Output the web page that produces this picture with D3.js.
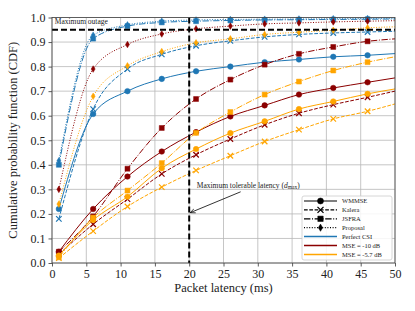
<!DOCTYPE html>
<html>
<head>
<meta charset="utf-8">
<script src="https://cdn.jsdelivr.net/npm/d3@7"></script>
<style>
  body { margin: 0; background: #fff; }
  svg text { font-family: "Liberation Serif", "DejaVu Serif", serif; fill: #222; }
</style>
</head>
<body>
<div id="chart"></div>
<script>
// latency points (ms); markers on every point except the last one
const latency = [1, 6, 11, 16, 21, 26, 31, 36, 41, 46, 50];
const xTicks = [0, 5, 10, 15, 20, 25, 30, 35, 40, 45, 50];
const yTicks = [0, 0.1, 0.2, 0.3, 0.4, 0.5, 0.6, 0.7, 0.8, 0.9, 1.0];

// Perfect CSI
const csiWmmse    = [0.22, 0.607, 0.70, 0.75, 0.781, 0.80, 0.818, 0.829, 0.84, 0.846, 0.853];
const csiKalera   = [0.18, 0.627, 0.79, 0.85, 0.885, 0.905, 0.921, 0.931, 0.937, 0.941, 0.944];
const csiJsfra    = [0.40, 0.914, 0.965, 0.98, 0.985, 0.988, 0.99, 0.991, 0.992, 0.993, 0.994];
const csiProposal = [0.416, 0.928, 0.97, 0.985, 0.99, 0.992, 0.993, 0.994, 0.995, 0.996, 0.997];
// MSE = -10 dB
const m10Wmmse    = [0.046, 0.22, 0.352, 0.454, 0.533, 0.597, 0.642, 0.686, 0.713, 0.736, 0.754];
const m10Kalera   = [0.035, 0.158, 0.26, 0.363, 0.441, 0.505, 0.563, 0.61, 0.645, 0.675, 0.70];
const m10Jsfra    = [0.046, 0.19, 0.384, 0.55, 0.668, 0.747, 0.808, 0.852, 0.88, 0.903, 0.913];
const m10Proposal = [0.30, 0.79, 0.89, 0.933, 0.954, 0.965, 0.974, 0.978, 0.982, 0.985, 0.987];
// MSE = -5.7 dB
const m57Wmmse    = [0.03, 0.175, 0.27, 0.386, 0.464, 0.529, 0.577, 0.627, 0.658, 0.689, 0.709];
const m57Kalera   = [0.02, 0.13, 0.23, 0.309, 0.377, 0.437, 0.495, 0.543, 0.587, 0.618, 0.648];
const m57Jsfra    = [0.023, 0.185, 0.295, 0.407, 0.53, 0.615, 0.686, 0.739, 0.784, 0.818, 0.84];
const m57Proposal = [0.24, 0.679, 0.803, 0.861, 0.897, 0.913, 0.931, 0.94, 0.948, 0.958, 0.962];

const maxOutage = 0.95;
const maxLatency = 20;

const methods = ['WMMSE', 'Kalera', 'JSFRA', 'Proposal'];
const scenarios = ['Perfect CSI', 'MSE = -10 dB', 'MSE = -5.7 dB'];
const scenarioColors = ['#1f77b4', '#8b0000', '#ffa500'];

const series = [
  {sc: 0, m: 0, v: csiWmmse}, {sc: 0, m: 1, v: csiKalera}, {sc: 0, m: 2, v: csiJsfra}, {sc: 0, m: 3, v: csiProposal},
  {sc: 1, m: 0, v: m10Wmmse}, {sc: 1, m: 1, v: m10Kalera}, {sc: 1, m: 2, v: m10Jsfra}, {sc: 1, m: 3, v: m10Proposal},
  {sc: 2, m: 0, v: m57Wmmse}, {sc: 2, m: 1, v: m57Kalera}, {sc: 2, m: 2, v: m57Jsfra}, {sc: 2, m: 3, v: m57Proposal}
];

const dashes = ['none', '3.7,1.6', '6.4,1.6,1,1.6', '1,1.6'];

const margin = {top: 17.5, right: 20, bottom: 48, left: 52};
const width = 415 - margin.left - margin.right;
const height = 311 - margin.top - margin.bottom;

const svg = d3.select('#chart').append('svg')
    .attr('width', 415).attr('height', 311)
    .append('g')
    .attr('transform', `translate(${margin.left},${margin.top})`);

const x = d3.scaleLinear().domain([0, 50]).range([0, width]);
const y = d3.scaleLinear().domain([0, 1]).range([height, 0]);

// grid
svg.append('g').selectAll('line').data(xTicks).enter().append('line')
    .attr('x1', d => x(d)).attr('x2', d => x(d)).attr('y1', 0).attr('y2', height)
    .attr('stroke', '#b8b8b8').attr('stroke-width', 0.8);
svg.append('g').selectAll('line').data(yTicks).enter().append('line')
    .attr('y1', d => y(d)).attr('y2', d => y(d)).attr('x1', 0).attr('x2', width)
    .attr('stroke', '#b8b8b8').attr('stroke-width', 0.8);

// axes
const xAxis = svg.append('g').attr('transform', `translate(0,${height})`)
    .call(d3.axisBottom(x).tickValues(xTicks).tickSize(3.5).tickPadding(3).tickFormat(d3.format('d')));
const yAxis = svg.append('g')
    .call(d3.axisLeft(y).tickValues(yTicks).tickSize(3.5).tickPadding(3).tickFormat(d3.format('.1f')));
[xAxis, yAxis].forEach(a => {
    a.select('.domain').remove();
    a.selectAll('line').attr('stroke', '#333').attr('stroke-width', 0.8);
    a.selectAll('text').style('font-size', '12px').style('font-family', '"Liberation Serif", serif').attr('fill', '#222');
});

function markerPath(m, s) {
    if (m === 0) return d3.symbol(d3.symbolCircle, s * s * 0.8)();
    if (m === 1) { const h = s * 0.5; return `M${-h},${-h}L${h},${h}M${-h},${h}L${h},${-h}`; }
    if (m === 2) { const h = s * 0.45; return `M${-h},${-h}H${h}V${h}H${-h}Z`; }
    const h = s * 0.6, w = s * 0.36;
    return `M0,${-h}L${w},0L0,${h}L${-w},0Z`;
}

const line = d3.line()
    .x((d, i) => x(latency[i]))
    .y(d => y(d))
    .curve(d3.curveMonotoneX);

const plot = svg.append('g');
series.forEach(s => {
    const col = scenarioColors[s.sc];
    plot.append('path')
        .attr('d', line(s.v))
        .attr('fill', 'none')
        .attr('stroke', col)
        .attr('stroke-width', 1)
        .attr('stroke-dasharray', dashes[s.m]);
    plot.selectAll(null).data(s.v.slice(0, -1)).enter().append('path')
        .attr('transform', (d, i) => `translate(${x(latency[i])},${y(d)})`)
        .attr('d', markerPath(s.m, 5.5))
        .attr('fill', s.m === 1 ? 'none' : col)
        .attr('stroke', col)
        .attr('stroke-width', s.m === 1 ? 1.2 : 0.5);
});

// maximum outage and latency lines
svg.append('line')
    .attr('x1', 0).attr('x2', width).attr('y1', y(maxOutage)).attr('y2', y(maxOutage))
    .attr('stroke', '#000').attr('stroke-width', 2).attr('stroke-dasharray', '6,3');
svg.append('line')
    .attr('x1', x(maxLatency)).attr('x2', x(maxLatency)).attr('y1', 0).attr('y2', height)
    .attr('stroke', '#000').attr('stroke-width', 2).attr('stroke-dasharray', '6,3');

svg.append('text')
    .attr('x', x(0.4)).attr('y', y(0.972))
    .style('font-size', '7.5px')
    .text('Maximum outage');

// annotation with arrow
svg.append('defs').append('marker')
    .attr('id', 'arrow').attr('viewBox', '0 0 10 10').attr('refX', 9).attr('refY', 5)
    .attr('markerWidth', 7).attr('markerHeight', 7).attr('orient', 'auto')
    .append('path').attr('d', 'M0,1L9,5L0,9').attr('fill', 'none').attr('stroke', '#000').attr('stroke-width', 1.2);
svg.append('line')
    .attr('x1', x(27.5)).attr('y1', y(0.29)).attr('x2', x(20.15)).attr('y2', y(0.205))
    .attr('stroke', '#000').attr('stroke-width', 0.8).attr('marker-end', 'url(#arrow)');
const ann = svg.append('text')
    .attr('x', x(21.1)).attr('y', y(0.306))
    .style('font-size', '7.5px')
    .text('Maximum tolerable latency (');
ann.append('tspan').style('font-style', 'italic').text('d');
ann.append('tspan').attr('dy', 1.5).style('font-size', '5.5px').text('max');
ann.append('tspan').attr('dy', -1.5).text(')');

// frame
svg.append('rect')
    .attr('width', width).attr('height', height)
    .attr('fill', 'none').attr('stroke', '#444').attr('stroke-width', 0.8);

// axis labels
svg.append('text')
    .attr('x', width / 2).attr('y', height + 29)
    .attr('text-anchor', 'middle')
    .style('font-size', '12.5px')
    .text('Packet latency (ms)');
svg.append('text')
    .attr('transform', 'rotate(-90)')
    .attr('x', -height / 2).attr('y', -35)
    .attr('text-anchor', 'middle')
    .style('font-size', '12.5px')
    .text('Cumulative probability function (CDF)');

// legend
const legend = svg.append('g').attr('transform', `translate(${302 - margin.left},${196 - margin.top})`);
legend.append('rect')
    .attr('width', 90).attr('height', 64).attr('rx', 2)
    .attr('fill', '#fff').attr('fill-opacity', 0.85)
    .attr('stroke', '#ccc').attr('stroke-width', 0.8);

const legendItems = methods.map((m, i) => ({label: m, m: i, color: '#000'}))
    .concat(scenarios.map((s, i) => ({label: s, m: null, color: scenarioColors[i]})));

legendItems.forEach((d, i) => {
    const row = legend.append('g').attr('transform', `translate(0,${5 + i * 8.9})`);
    row.append('line')
        .attr('x1', 2).attr('x2', 35)
        .attr('stroke', d.color)
        .attr('stroke-width', d.m === null ? 1.5 : 1.2)
        .attr('stroke-dasharray', d.m === null ? 'none' : dashes[d.m]);
    if (d.m !== null) {
        row.append('path')
            .attr('transform', 'translate(18.5,0)')
            .attr('d', markerPath(d.m, 6))
            .attr('fill', d.m === 1 ? 'none' : '#000')
            .attr('stroke', '#000')
            .attr('stroke-width', d.m === 1 ? 1.3 : 0.5);
    }
    row.append('text')
        .attr('x', 40).attr('y', 2.3)
        .style('font-size', '6.5px')
        .text(d.label);
});
</script>
</body>
</html>
